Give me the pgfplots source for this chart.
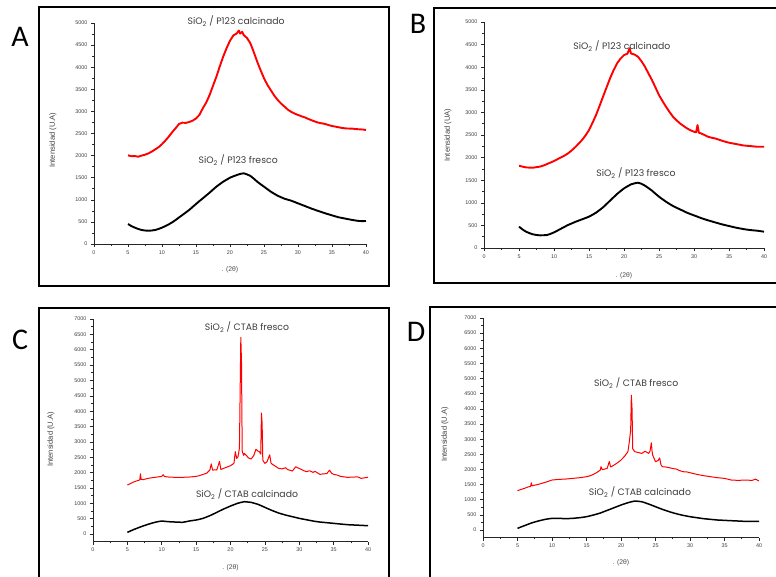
\documentclass[border=0pt]{standalone}
\usepackage{pgfplots}
\pgfplotsset{compat=1.18}
\usepackage{fontspec}
\setmainfont{Liberation Sans}
\newfontfamily\gothic{Poppins}
\newfontfamily\calibri{Carlito}

\definecolor{txt}{HTML}{3C3C3C}
\newcommand{\ttl}{\gothic\fontsize{9.3}{11}\selectfont\color{txt}}

\pgfplotsset{
  panel/.style={
    scale only axis, clip=false,
    axis lines=left, axis line style={-,black!85,line width=0.6pt},
    tick align=outside, tick style={black!85,line width=0.55pt},
    major tick length=3pt, minor tick length=1.8pt,
    xmin=0, xmax=40, xtick={0,5,...,40},
    minor x tick num=1, minor y tick num=1,
    tick label style={font=\fontsize{5.4}{6}\selectfont, text=black!75},
    /pgf/number format/1000 sep={},
    /pgf/number format/assume math mode=true,
    xlabel={. (2θ)},
    xlabel style={font=\fontsize{6.8}{8}\selectfont, text=black!70, anchor=center},
    ylabel style={font=\fontsize{7.6}{9}\selectfont, text=black!75, anchor=center},
  },
  redc/.style={red, line width=1.9pt, line join=round},
  blkc/.style={black, line width=1.9pt, line join=round},
}

\begin{document}
\begin{tikzpicture}[x=1pt,y=1pt]
\useasboundingbox (0,0) rectangle (776,577);

% frames
\draw[line width=2.6pt] (39,570) rectangle (389,291);
\draw[line width=2.6pt] (434,569) rectangle (785,294);
\draw[line width=2.6pt] (39,269) rectangle (389,-10);
\draw[line width=2.6pt] (430,270) rectangle (785,-10);

% panel letters
\node[font=\calibri\fontsize{30}{30}\selectfont] at (20,540) {A};
\node[font=\calibri\fontsize{30}{30}\selectfont] at (418,553) {B};
\node[font=\calibri\fontsize{30}{30}\selectfont] at (20,237) {C};
\node[font=\calibri\fontsize{30}{30}\selectfont] at (416,245) {D};

% ---------------- A
\begin{axis}[panel, at={(94pt,333pt)}, anchor=south west, width=272pt, height=221pt,
  ymin=0, ymax=5000, ytick={0,500,...,5000},
  ylabel={Intensidad (U.A)},
  ylabel style={at={(axis description cs:-0.151,0.47)}},
  xlabel style={at={(axis description cs:0.5,-0.118)}}]
\addplot[redc] coordinates {
(5,2006) (5.5,1985) (6,1990) (6.5,1975) (7,2000) (7.5,2020) (8,2050) (8.5,2090) (9,2140) (9.5,2190)
(10,2260) (10.5,2340) (11,2430) (11.5,2530) (12,2620) (12.5,2715) (13,2745) (13.5,2740) (14,2760)
(14.5,2790) (15,2840) (15.5,2920) (16,3070) (16.5,3200) (17,3370) (17.5,3580) (18,3785) (18.5,4020)
(19,4240) (19.5,4430) (20,4600) (20.5,4720) (21,4765) (21.3,4830) (21.5,4760) (21.8,4800) (22,4730)
(22.5,4660) (23,4540) (23.5,4340) (24,4125) (24.5,3930) (25,3750) (25.5,3600) (26,3480) (26.5,3360)
(27,3260) (27.5,3180) (28,3110) (28.5,3040) (29,2990) (29.5,2950) (30,2920) (30.5,2890) (31,2865)
(31.5,2830) (32,2800) (32.5,2770) (33,2745) (33.5,2730) (34,2715) (34.5,2690) (35,2670) (35.5,2655)
(36,2640) (36.5,2625) (37,2615) (37.5,2612) (38,2610) (38.5,2600) (39,2595) (39.5,2590) (40,2580)};
\addplot[blkc] coordinates {
(5,452) (5.5,405) (6,370) (6.5,340) (7,317) (7.5,305) (8,300) (8.5,305) (9,317) (9.5,340) (10,370)
(10.5,405) (11,445) (11.5,490) (12,543) (12.5,600) (13,656) (13.5,712) (14,770) (14.5,838) (15,905)
(15.5,970) (16,1033) (16.5,1097) (17,1161) (17.5,1230) (18,1297) (18.5,1355) (19,1410) (19.5,1455)
(20,1500) (20.5,1532) (21,1560) (21.5,1585) (22,1600) (22.5,1575) (23,1540) (23.5,1478) (24,1410)
(24.5,1352) (25,1297) (25.5,1240) (26,1184) (26.5,1137) (27,1093) (27.5,1058) (28,1025) (28.5,1002)
(29,980) (29.5,950) (30,920) (30.5,890) (31,860) (31.5,830) (32,800) (32.5,773) (33,746) (33.5,720)
(34,694) (34.5,671) (35,648) (35.5,625) (36,603) (36.5,588) (37,573) (37.5,558) (38,543) (38.5,531)
(39,520) (39.5,518) (40,520)};
\node[font=\ttl] at (axis cs:20.9,5045) {SiO\textsubscript{2} / P123 calcinado};
\node[font=\ttl] at (axis cs:21.2,1900) {SiO\textsubscript{2} / P123 fresco};
\end{axis}

% ---------------- B
\begin{axis}[panel, at={(484pt,329pt)}, anchor=south west, width=280pt, height=226pt,
  ymin=0, ymax=5000, ytick={0,500,...,5000},
  ylabel={Intensidad (UA)},
  ylabel style={at={(axis description cs:-0.129,0.5)}},
  xlabel style={at={(axis description cs:0.5,-0.124)}}]
\addplot[redc] coordinates {
(5,1820) (5.5,1800) (6,1783) (6.5,1778) (7,1776) (7.5,1790) (8,1800) (8.5,1825) (9,1857) (9.5,1890)
(10,1924) (10.5,1965) (11,2005) (11.5,2045) (12,2093) (12.5,2155) (13,2226) (13.5,2305) (14,2388)
(14.5,2490) (15,2609) (15.5,2770) (16,2940) (16.5,3140) (17,3346) (17.5,3550) (18,3751) (18.5,3930)
(19,4083) (19.5,4190) (20,4267) (20.5,4300) (20.8,4420) (21,4304) (21.5,4280) (22,4230) (22.5,4130)
(23,4009) (23.5,3860) (24,3714) (24.5,3550) (25,3383) (25.5,3250) (26,3125) (26.5,3010) (27,2904)
(27.5,2825) (28,2756) (28.5,2700) (29,2646) (29.5,2605) (30,2572) (30.3,2560) (30.5,2720) (30.7,2550)
(31,2535) (31.5,2500) (32,2462) (32.5,2440) (33,2425) (33.5,2400) (34,2373) (34.5,2350) (35,2329)
(35.5,2315) (36,2300) (36.5,2285) (37,2270) (37.5,2262) (38,2255) (38.5,2248) (39,2240) (39.5,2240)
(40,2240)};
\addplot[blkc] coordinates {
(5,472) (5.5,410) (6,361) (6.5,328) (7,302) (7.5,288) (8,280) (8.5,282) (9,287) (9.5,312) (10,346)
(10.5,385) (11,427) (11.5,468) (12,508) (12.5,542) (13,575) (13.5,605) (14,634) (14.5,663) (15,693)
(15.5,735) (16,781) (16.5,838) (17,899) (17.5,972) (18,1047) (18.5,1120) (19,1194) (19.5,1258)
(20,1319) (20.5,1365) (21,1408) (21.5,1430) (22,1445) (22.5,1420) (23,1378) (23.5,1325) (24,1268)
(24.5,1200) (25,1135) (25.5,1078) (26,1024) (26.5,975) (27,929) (27.5,890) (28,855) (28.5,818)
(29,781) (29.5,750) (30,722) (30.5,692) (31,663) (31.5,637) (32,612) (32.5,590) (33,567) (33.5,545)
(34,523) (34.5,504) (35,486) (35.5,468) (36,450) (36.5,435) (37,420) (37.5,408) (38,398) (38.5,390)
(39,383) (39.5,372) (40,361)};
\node[font=\ttl] at (axis cs:19.7,4469) {SiO\textsubscript{2} / P123 calcinado};
\node[font=\ttl] at (axis cs:21.7,1659) {SiO\textsubscript{2} / P123 fresco};
\end{axis}

% ---------------- C
\begin{axis}[panel, at={(93pt,35.3pt)}, anchor=south west, width=275pt, height=222.7pt,
  ymin=-250, ymax=7000, ytick={0,500,...,7000},
  ylabel={Intensidad (U.A)},
  ylabel style={at={(axis description cs:-0.153,0.46)}},
  xlabel style={at={(axis description cs:0.5,-0.117)}}]
\addplot[red, line width=1pt, line join=round] coordinates {
(5,1595) (5.5,1650) (6,1703) (6.5,1740) (6.8,1760) (6.9,1960) (7.0,1780) (7.3,1770) (8,1812)
(8.5,1830) (9,1845) (9.5,1860) (10,1877) (10.2,1930) (10.4,1870) (11,1855) (11.5,1850) (12,1845)
(12.5,1840) (13,1845) (13.5,1850) (14,1855) (14.5,1865) (15,1877) (15.5,1900) (16,1942) (16.5,1975)
(17,2083) (17.2,2280) (17.4,2080) (17.8,2090) (18,2083) (18.4,2360) (18.6,2100) (19,2137) (19.5,2180)
(20,2224) (20.5,2300) (20.7,2680) (20.9,2460) (21.1,2520) (21.3,2800) (21.5,6400) (21.6,5600)
(21.7,2700) (21.9,2560) (22,2625) (22.3,2560) (22.6,2480) (23,2441) (23.4,2560) (23.7,2760)
(24,2700) (24.2,2680) (24.4,2600) (24.5,3940) (24.6,3600) (24.7,2400) (25,2300) (25.3,2350)
(25.7,2580) (25.9,2300) (26.3,2240) (27,2137) (27.5,2120) (28,2159) (28.3,2100) (29,2050) (29.5,2192)
(29.8,2150) (30,2137) (30.5,2080) (31,2029) (31.5,2060) (32,2007) (32.3,2040) (33,1942) (33.5,1960)
(34,1964) (34.4,2080) (34.7,1980) (35,1942) (35.5,1920) (36,1877) (37,1845) (37.5,1850) (38,1855)
(38.5,1860) (39,1812) (39.5,1830) (40,1845)};
\addplot[black, line width=1.5pt, line join=round] coordinates {
(5,54) (5.5,105) (6,152) (6.5,196) (7,239) (7.5,278) (8,315) (8.5,350) (9,380) (9.5,405) (10,423)
(10.5,412) (11,401) (11.5,395) (12,390) (12.5,385) (13,380) (13.5,400) (14,423) (14.5,440) (15,456)
(15.5,480) (16,510) (16.5,552) (17,597) (17.5,650) (18,705) (18.5,760) (19,814) (19.5,862) (20,911)
(20.5,955) (21,998) (21.5,1028) (22,1052) (22.5,1042) (23,1031) (23.5,1000) (24,966) (24.5,918)
(25,868) (25.5,818) (26,770) (26.5,726) (27,684) (27.5,650) (28,618) (28.5,590) (29,564) (29.5,537)
(30,510) (30.5,488) (31,467) (31.5,445) (32,423) (32.5,405) (33,390) (33.5,380) (34,369) (34.5,358)
(35,347) (35.5,336) (36,325) (36.5,315) (37,304) (37.5,298) (38,293) (38.5,288) (39,282) (39.5,276)
(40,271)};
\node[font=\ttl] at (axis cs:22.4,6740) {SiO\textsubscript{2} / CTAB fresco};
\node[font=\ttl] at (axis cs:22.4,1302) {SiO\textsubscript{2} / CTAB calcinado};
\end{axis}

% ---------------- D
\begin{axis}[panel, at={(483pt,39.4pt)}, anchor=south west, width=276pt, height=219.6pt,
  ymin=-250, ymax=7000, ytick={0,500,...,7000},
  ylabel={Intensidad (U.A)},
  ylabel style={at={(axis description cs:-0.138,0.47)}},
  xlabel style={at={(axis description cs:0.5,-0.114)}}]
\addplot[red, line width=1pt, line join=round] coordinates {
(5,1298) (5.5,1340) (6,1375) (6.5,1420) (6.9,1440) (7.0,1560) (7.1,1460) (8,1507) (9,1573)
(10,1650) (11,1672) (12,1683) (13,1705) (14,1727) (15,1760) (15.5,1790) (16,1837) (16.5,1900)
(17,1980) (17.1,2090) (17.3,1990) (18,2035) (18.3,2260) (18.5,2080) (19,2145) (19.5,2220)
(20,2310) (20.5,2430) (21,2585) (21.2,2900) (21.4,3300) (21.5,4450) (21.6,4000) (21.7,2680)
(22,2585) (22.5,2560) (23,2530) (23.5,2600) (24,2530) (24.2,2600) (24.4,2880) (24.5,2600)
(24.6,2470) (25,2255) (25.4,2300) (25.6,2380) (25.8,2150) (26,2090) (26.5,2080) (27,2057)
(27.5,2030) (28,2013) (28.5,1960) (29,1925) (29.5,1920) (30,1892) (31,1837) (32,1793) (33,1760)
(34,1727) (35,1705) (36,1650) (37,1639) (38,1650) (39,1639) (39.5,1680) (40,1617)};
\addplot[black, line width=1.5pt, line join=round] coordinates {
(5,55) (5.5,100) (6,143) (6.5,188) (7,231) (7.5,265) (8,297) (8.5,325) (9,352) (9.5,370) (10,385)
(10.5,386) (11,385) (11.5,380) (12,374) (12.5,380) (13,385) (13.5,396) (14,407) (14.5,422) (15,440)
(15.5,466) (16,495) (16.5,527) (17,561) (17.5,604) (18,649) (18.5,692) (19,737) (19.5,781) (20,825)
(20.5,865) (21,902) (21.5,932) (22,957) (22.5,948) (23,935) (23.5,898) (24,858) (24.5,815) (25,770)
(25.5,725) (26,682) (26.5,642) (27,605) (27.5,570) (28,539) (28.5,510) (29,484) (29.5,462) (30,440)
(30.5,423) (31,407) (31.5,390) (32,374) (32.5,363) (33,352) (33.5,341) (34,330) (34.5,325) (35,319)
(35.5,313) (36,308) (36.5,302) (37,297) (37.5,291) (38,286) (38.5,286) (39,286) (39.5,286) (40,286)};
\node[font=\ttl] at (axis cs:22.2,4854) {SiO\textsubscript{2} / CTAB fresco};
\node[font=\ttl] at (axis cs:22.75,1255) {SiO\textsubscript{2} / CTAB calcinado};
\end{axis}
\end{tikzpicture}
\end{document}
